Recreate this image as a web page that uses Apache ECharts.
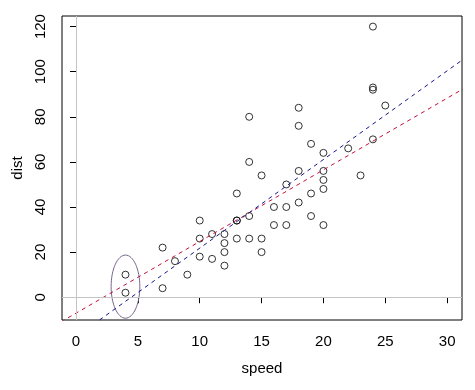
<!DOCTYPE html>
<html><head><meta charset="utf-8">
<script src="https://cdn.jsdelivr.net/npm/echarts@6/dist/echarts.min.js"></script>
<style>html,body{margin:0;padding:0;background:#fff}#c{width:475px;height:390px}</style>
</head><body><div id="c"></div>
<script>
var speed = [4,4,7,7,8,9,10,10,10,11,11,12,12,12,12,13,13,13,13,14,14,14,14,15,15,15,16,16,17,17,17,18,18,18,18,19,19,19,20,20,20,20,20,22,23,24,24,24,24,25];
var dist = [2,10,4,22,16,10,18,26,34,17,28,14,20,24,28,26,34,34,46,26,36,60,80,20,26,54,32,40,32,40,50,42,56,76,84,36,46,68,32,48,52,56,64,66,54,70,92,93,120,85];
var redLine = [[-1.2, -10.9], [31.3, 92.4]];
var blueLine = [[1.9, -10.1], [31.3, 105.5]];
var ellipse = [[4, 4.7, 1.16, 14.0]]; // center x, center y, x radius, y radius
var xTicks = [0, 5, 10, 15, 20, 25, 30];
var yTicks = [0, 20, 40, 60, 80, 100, 120];

var points = speed.map(function (s, i) { return [s, dist[i]]; });
var font = 'Liberation Sans, Arial, sans-serif';
var chart = echarts.init(document.getElementById('c'), null, {renderer: 'canvas'});
chart.setOption({
  animation: false,
  grid: {left: 62, right: 13, top: 16, bottom: 70, show: true, borderColor: '#000', borderWidth: 1, backgroundColor: 'transparent'},
  xAxis: {
    type: 'value', min: -1.13, max: 31.2,
    name: 'speed', nameLocation: 'middle', nameGap: 41,
    nameTextStyle: {fontFamily: font, fontSize: 15, color: '#000'},
    axisLine: {show: false},
    splitLine: {show: false},
    axisTick: {show: true, length: 6, inside: false, customValues: xTicks, lineStyle: {color: '#000'}},
    axisLabel: {customValues: xTicks, fontFamily: font, fontSize: 15, color: '#000', margin: 14}
  },
  yAxis: {
    type: 'value', min: -10.1, max: 124.7,
    name: 'dist', nameLocation: 'middle', nameGap: 37, nameRotate: 90,
    nameTextStyle: {fontFamily: font, fontSize: 15, color: '#000'},
    axisLine: {show: false},
    splitLine: {show: false},
    axisTick: {show: true, length: 6, inside: false, customValues: yTicks, lineStyle: {color: '#000'}},
    axisLabel: {customValues: yTicks, rotate: 90, fontFamily: font, fontSize: 15, color: '#000', margin: 14}
  },
  series: [
    {
      type: 'scatter', data: points, symbol: 'circle', symbolSize: 7, z: 3,
      itemStyle: {color: 'transparent', borderColor: '#000', borderWidth: 1},
      markLine: {
        silent: true, symbol: ['none', 'none'], label: {show: false},
        lineStyle: {color: '#c4c4c4', type: 'solid', width: 1},
        data: [{xAxis: 0}, {yAxis: 0}]
      }
    },
    {
      type: 'line', data: redLine, symbol: 'none', clip: true, z: 4,
      lineStyle: {color: '#c0103a', width: 1, type: [4, 4]}
    },
    {
      type: 'line', data: blueLine, symbol: 'none', clip: true, z: 4,
      lineStyle: {color: '#14148a', width: 1, type: [4, 4]}
    },
    {
      type: 'custom', data: ellipse, z: 4,
      renderItem: function (params, api) {
        var c = api.coord([api.value(0), api.value(1)]);
        var s = api.size([api.value(2), api.value(3)]);
        return {type: 'ellipse', shape: {cx: c[0], cy: c[1], rx: s[0], ry: s[1]},
          style: {fill: null, stroke: '#76648a', lineWidth: 1}};
      }
    }
  ]
});
</script></body></html>
